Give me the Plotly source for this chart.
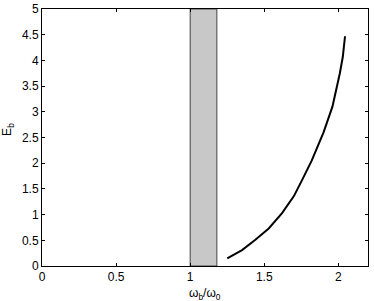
import plotly.graph_objects as go

# Data
omega_ratio = [1.25, 1.35, 1.44, 1.53, 1.62, 1.70, 1.76, 1.82, 1.90, 1.96, 2.01, 2.03, 2.045]
E_b = [0.15, 0.31, 0.51, 0.73, 1.03, 1.36, 1.70, 2.05, 2.60, 3.10, 3.75, 4.07, 4.47]
band_x = [1.0, 1.18]
x_ticks = [0, 0.5, 1, 1.5, 2]
y_ticks = [0, 0.5, 1, 1.5, 2, 2.5, 3, 3.5, 4, 4.5, 5]

fig = go.Figure()
fig.add_trace(go.Scatter(x=omega_ratio, y=E_b, mode="lines",
                         line=dict(color="black", width=2), showlegend=False))

fig.add_shape(type="rect", xref="x", yref="y", x0=band_x[0], x1=band_x[1], y0=0, y1=5,
              fillcolor="#c8c8c8", line=dict(color="#444444", width=1), layer="below")

font = dict(family="Liberation Sans, Arial, sans-serif", size=12, color="black")
tfont = dict(family="Liberation Sans, Arial, sans-serif", size=12, color="black")
fig.update_layout(
    width=374, height=301,
    margin=dict(l=42, r=6, t=9, b=35, autoexpand=False),
    plot_bgcolor="white", paper_bgcolor="white",
    font=font,
    xaxis=dict(range=[0, 2.2], tickvals=x_ticks, ticktext=[str(v) for v in x_ticks],
               ticks="inside", ticklen=3, tickcolor="black", showgrid=False, zeroline=False,
               showline=True, linecolor="black", linewidth=1, mirror="allticks",
               automargin=False),
    yaxis=dict(range=[0, 5], tickvals=y_ticks, ticktext=[f"{v:g}" for v in y_ticks],
               ticks="inside", ticklen=3, tickcolor="black", showgrid=False, zeroline=False,
               showline=True, linecolor="black", linewidth=1, mirror="allticks",
               automargin=False),
    annotations=[
        dict(text="ω<sub>b</sub>/ω<sub>0</sub>", xref="paper", yref="paper",
             x=0.5, y=-0.11, xanchor="center", yanchor="middle", showarrow=False, font=tfont),
        dict(text="E<sub>b</sub>", xref="paper", yref="paper", textangle=-90,
             x=-0.104, y=0.53, xanchor="center", yanchor="middle", showarrow=False, font=tfont),
    ],
)

fig.write_html("out.html", post_script="document.body.style.margin='0px';",
               config={"displayModeBar": False})
